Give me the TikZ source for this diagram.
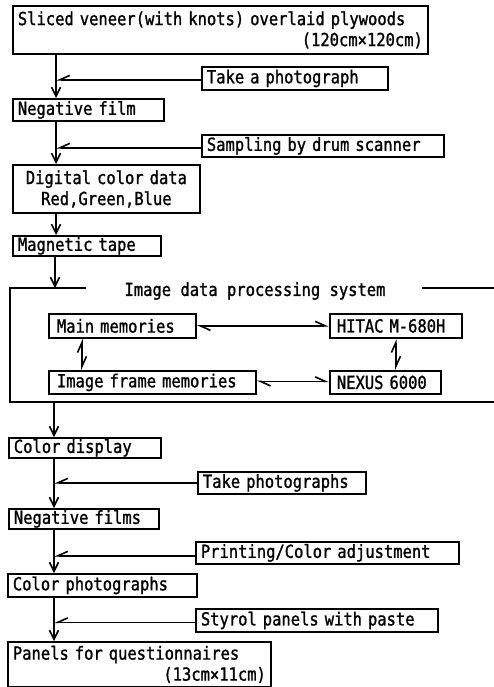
\documentclass[tikz,border=0pt]{standalone}
\usepackage{fontspec}
\newfontfamily\mono[FakeStretch=0.86,FakeBold=1.2]{DejaVu Sans Mono}
\usetikzlibrary{arrows.meta}
\begin{document}
\begin{tikzpicture}[x=1pt,y=-1pt,
  line width=1.8pt,
  box/.style={draw, anchor=north west, inner xsep=5pt, inner ysep=0pt,
    font=\mono\fontsize{18}{21}\selectfont, align=left},
  downarr/.style={-{Straight Barb[length=9pt,width=9pt,line width=1.6pt]}},
  sidearr/.style={-{Straight Barb[harpoon,swap,length=10pt,width=9pt,line width=1.6pt]}},
  dblarr/.style={{Straight Barb[harpoon,length=10pt,width=9pt,line width=1.6pt]}-{Straight Barb[harpoon,length=10pt,width=9pt,line width=1.6pt]}},
  plain/.style={draw=none, font=\mono\fontsize{18}{21}\selectfont}
]
\useasboundingbox (0,0) rectangle (494,687);
\fill[white] (0,0) rectangle (494,687);

% spines
\coordinate (spA) at (56,0);
\coordinate (spB) at (54,0);

% main flow boxes
\node[box, minimum width=415pt, minimum height=48pt, text width=405pt] (b1) at (12,5)
  {Sliced veneer(with knots) overlaid plywoods\\\hfill(120cm×120cm)};
\node[box, minimum width=186pt, minimum height=23pt, text width=176pt] (s1) at (201,66) {Take a photograph};
\node[box, minimum width=151pt, minimum height=22pt, text width=141pt] (b2) at (12,98) {Negative film};
\node[box, minimum width=242pt, minimum height=22pt, text width=232pt] (s2) at (201,134) {Sampling by drum scanner};
\node[box, minimum width=187pt, minimum height=48pt, text width=177pt, align=center] (b3) at (12,164)
  {Digital color data\\Red,Green,Blue};
\node[box, minimum width=148pt, minimum height=20pt, text width=138pt] (b4) at (12,235) {Magnetic tape};

% system frame
\node[plain, anchor=center] (title) at (255,291) {Image data processing system};
\coordinate (fTL) at (10,288);
\coordinate (fTa) at (86,288);
\coordinate (fTb) at (422,288);
\coordinate (fTR) at (494,288);
\coordinate (fBL) at (10,402);
\coordinate (fBR) at (494,402);
\draw (fTa) -- (fTL) -- (fBL) -- (fBR);
\draw (fTb) -- (fTR);

\node[box, minimum width=147pt, minimum height=24pt, text width=137pt] (mm) at (48,313) {\hspace{3pt}Main memories};
\node[box, minimum width=132pt, minimum height=24pt, text width=122pt] (hitac) at (329,313) {\hspace{2pt}HITAC M-680H};
\node[box, minimum width=207pt, minimum height=23pt, text width=197pt] (ifm) at (48,370) {\hspace{3pt}Image frame memories};
\node[box, minimum width=111pt, minimum height=23pt, text width=101pt] (nexus) at (329,370) {\hspace{2pt}NEXUS 6000};

\node[box, minimum width=152pt, minimum height=20pt, text width=142pt] (b5) at (8,437) {Color display};
\node[box, minimum width=168pt, minimum height=22pt, text width=158pt] (s3) at (197,471) {Take photographs};
\node[box, minimum width=150pt, minimum height=20pt, text width=140pt] (b6) at (8,508) {Negative films};
\node[box, minimum width=263pt, minimum height=22pt, text width=253pt] (s4) at (195,541) {Printing/Color adjustment};
\node[box, minimum width=189pt, minimum height=23pt, text width=179pt] (b7) at (7,573) {Color photographs};
\node[box, minimum width=242pt, minimum height=23pt, text width=232pt] (s5) at (195,608) {Styrol panels with paste};
\node[box, minimum width=263pt, minimum height=45pt, text width=253pt] (b8) at (7,641)
  {Panels for questionnaires\\\hfill(13cm×11cm)\hspace{2pt}};

% main flow connectors
\draw[downarr] (b1.south -| spA) -- (b2.north -| spA);
\draw[downarr] (b2.south -| spA) -- (b3.north -| spA);
\draw[downarr] (b3.south -| spA) -- (b4.north -| spA);
\draw[downarr] ([xshift=-1pt]b4.south -| spA) -- ([xshift=-1pt]fTL -| spA);
\draw[downarr] (fBL -| spB) -- (b5.north -| spB);
\draw[downarr] (b5.south -| spB) -- (b6.north -| spB);
\draw[downarr] (b6.south -| spB) -- (b7.north -| spB);
\draw[downarr] (b7.south -| spB) -- (b8.north -| spB);

% side inputs
\draw[sidearr] ([yshift=-1.5pt]s1.west) -- ([yshift=-1.5pt]s1.west -| spA);
\draw[sidearr] ([yshift=-2pt]s2.west) -- ([yshift=-2pt]s2.west -| spA);
\draw[sidearr] (s3.west) -- (s3.west -| spB);
\draw[sidearr] ([yshift=-3pt]s4.west) -- ([yshift=-3pt]s4.west -| spB);
\draw[sidearr] ([yshift=-2pt]s5.west) -- ([yshift=-2pt]s5.west -| spB);

% internal connectors
\draw[dblarr] (mm.east) -- (hitac.west);
\draw[dblarr] ([yshift=1pt]ifm.east) -- ([yshift=1pt]ifm.east -| nexus.west);
\draw[dblarr] ([xshift=34pt]mm.south west) -- ([xshift=34pt]mm.south west |- ifm.north);
\draw[dblarr] (hitac.south) -- (hitac.south |- nexus.north);
\end{tikzpicture}
\end{document}
